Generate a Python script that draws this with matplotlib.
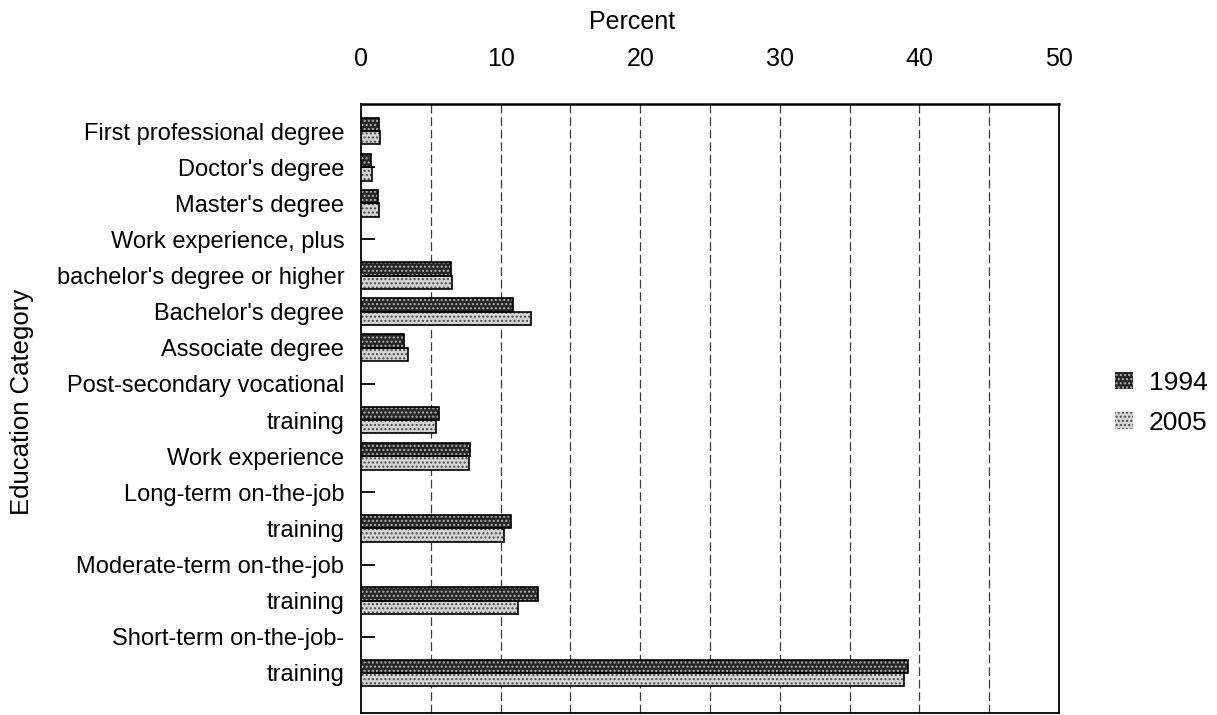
import numpy as np
import matplotlib
matplotlib.use("Agg")
import matplotlib.pyplot as plt
from matplotlib.patches import Patch

# Education categories (multi-line labels wrap onto extra rows) and shares in percent
categories = [
    "First professional degree",
    "Doctor's degree",
    "Master's degree",
    "Work experience, plus\nbachelor's degree or higher",
    "Bachelor's degree",
    "Associate degree",
    "Post-secondary vocational\ntraining",
    "Work experience",
    "Long-term on-the-job\ntraining",
    "Moderate-term on-the-job\ntraining",
    "Short-term on-the-job-\ntraining",
]
pct_1994 = [1.3, 0.75, 1.2, 6.45, 10.9, 3.1, 5.6, 7.8, 10.75, 12.7, 39.2]
pct_2005 = [1.35, 0.8, 1.3, 6.5, 12.2, 3.4, 5.4, 7.75, 10.25, 11.25, 38.9]
series_names = ["1994", "2005"]
x_ticks = [0, 10, 20, 30, 40, 50]

plt.rcParams["font.family"] = ["Liberation Sans", "DejaVu Sans"]
plt.rcParams["hatch.linewidth"] = 1.0

fig = plt.figure(figsize=(12.17, 7.15), dpi=100)
ax = fig.add_axes([361 / 1217, 1 - 713 / 715, (1059 - 361) / 1217, (713 - 104) / 715])

# Lay out one row per label line; bars sit on the last line of each category
row_labels, bar_rows = [], []
for cat in categories:
    lines = cat.split("\n")
    row_labels.extend(lines)
    bar_rows.append(len(row_labels) - 1)
rows = np.arange(len(row_labels))
bar_rows = np.array(bar_rows)
h = 0.37

dark_face, light_face = "#262626", "#d4d4d4"
dark_dots, light_dots = "#b0b0b0", "#4a4a4a"
# 1994: dark fill with light dot texture
ax.barh(bar_rows - h / 2, pct_1994, height=h, color=dark_face, edgecolor=dark_dots,
        hatch="....", linewidth=0, zorder=3)
ax.barh(bar_rows - h / 2, pct_1994, height=h, fill=False, edgecolor="black",
        linewidth=1.2, zorder=4)
# 2005: light fill with dark dot texture
ax.barh(bar_rows + h / 2, pct_2005, height=h, color=light_face, edgecolor=light_dots,
        hatch="....", linewidth=0, zorder=3)
ax.barh(bar_rows + h / 2, pct_2005, height=h, fill=False, edgecolor="black",
        linewidth=1.2, zorder=4)

ax.set_xlim(0, 50)
ax.set_ylim(len(row_labels) - 1 + 40 / 36.1, -27 / 36.1)

ax.xaxis.tick_top()
ax.xaxis.set_label_position("top")
ax.set_xticks(x_ticks)
ax.set_xticklabels([str(t) for t in x_ticks], fontsize=18)
ax.tick_params(axis="x", length=0, pad=24)
ax.set_xlabel("Percent", fontsize=18, labelpad=13)
ax.xaxis.label.set_x(0.388)

ax.set_yticks(rows)
ax.set_yticklabels(row_labels, fontsize=17)
ax.tick_params(axis="y", direction="in", length=10, width=1.3, pad=12, color="black")
ax.set_ylabel("Education Category", fontsize=18.5, labelpad=16)
ax.yaxis.label.set_y(0.511)

for x in np.arange(5, 50, 5):
    ax.axvline(x, color="#3c3c3c", linewidth=0.9, linestyle=(0, (7, 3)), zorder=1)

for side in ["left", "top", "right", "bottom"]:
    ax.spines[side].set_linewidth(1.3)
    ax.spines[side].set_color("black")
ax.spines["top"].set_linewidth(1.8)

handles = [
    Patch(facecolor=dark_face, edgecolor=dark_dots, hatch="....", linewidth=0),
    Patch(facecolor=light_face, edgecolor=light_dots, hatch="....", linewidth=0),
]
fig.legend(handles, series_names, loc="center left", bbox_to_anchor=(1091 / 1217, 1 - 403 / 715),
           frameon=False, fontsize=19, handlelength=0.7, handleheight=0.6,
           handletextpad=0.6, labelspacing=0.6)

fig.savefig("out.png", dpi=100, facecolor="white")
